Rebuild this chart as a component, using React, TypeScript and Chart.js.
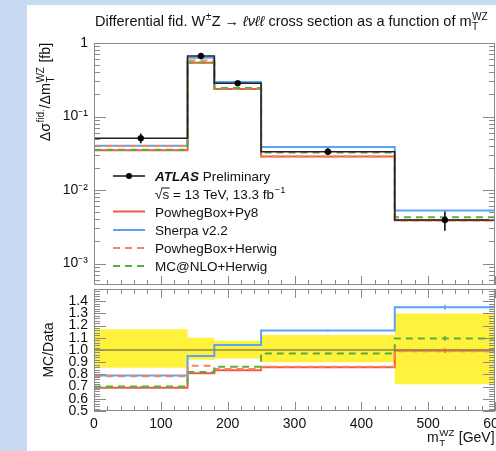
import React, { useEffect, useRef } from "react";
import { Chart, registerables } from "chart.js";
Chart.register(...registerables);

// ---------------- data ----------------
const binEdges = [0, 140, 180, 250, 450, 600];
const dataXsec = [0.0505, 0.665, 0.283, 0.0332, 0.0039];
const dataErrHi = [0.0585, 0.73, 0.303, 0.0372, 0.0051];
const dataErrLo = [0.0432, 0.61, 0.264, 0.0299, 0.0028];
const powhegPy8 = [0.0348, 0.539, 0.236, 0.0285, 0.00388];
const sherpa = [0.0399, 0.632, 0.294, 0.0385, 0.00527];
const powhegHerwig = [0.0396, 0.579, 0.239, 0.0286, 0.00386];
const mcnloHerwig = [0.0354, 0.545, 0.244, 0.0323, 0.00427];

const ratioData = [1, 1, 1, 1, 1];
const ratioPowhegPy8 = [0.69, 0.81, 0.835, 0.858, 0.995];
const ratioSherpa = [0.79, 0.95, 1.04, 1.16, 1.35];
const ratioPowhegHerwig = [0.785, 0.87, 0.845, 0.862, 0.99];
const ratioMcnloHerwig = [0.7, 0.82, 0.863, 0.972, 1.095];
const ratioMcStatErr = [0.004, 0.004, 0.005, 0.008, 0.02];
const bandHi = [1.17, 1.1, 1.075, 1.123, 1.3];
const bandLo = [0.855, 0.92, 0.93, 0.9, 0.72];

const logTickValues = [1e-3, 1e-2, 1e-1, 1];
const logTickLabels = ["10\u207B\u00B3", "10\u207B\u00B2", "10\u207B\u00B9", "1"];
const ratioTickValues = [0.5, 0.6, 0.7, 0.8, 0.9, 1.0, 1.1, 1.2, 1.3, 1.4];
const ratioTickLabels = ["0.5", "0.6", "0.7", "0.8", "0.9", "1.0", "1.1", "1.2", "1.3", "1.4"];
const xTickValues = [0, 100, 200, 300, 400, 500, 600];
const xTickLabels = ["0", "100", "200", "300", "400", "500", "600"];

const seriesNames = ["PowhegBox+Py8", "Sherpa v2.2", "PowhegBox+Herwig", "MC@NLO+Herwig"];

// ---------------- style ----------------
const FONT = '"Liberation Sans", Arial, Helvetica, sans-serif';
const RED = "#f35a3b";
const BLUE = "#5ba3f7";
const SALMON = "#f7835f";
const GREEN = "#55b043";
const YELLOW = "#fff23c";
const DATA_RATIO = "#8c8a40";
const FRAME = "#8a8a8a";
const DASH = [7, 5];

const fnt = (st: string, sz: number) => `${st} ${sz}px ${FONT}`.trim();

const stepPts = (vals: number[]) =>
  binEdges.map((x, i) => ({ x, y: vals[Math.min(i, vals.length - 1)] }));
const centers = binEdges.slice(0, -1).map((e, i) => (e + binEdges[i + 1]) / 2);

type Seg = { t?: string; st?: string; sup?: string; sub?: string };

function segWidth(ctx: CanvasRenderingContext2D, s: Seg, size: number) {
  if (s.t !== undefined) {
    ctx.font = fnt(s.st || "", size);
    return ctx.measureText(s.t).width;
  }
  ctx.font = fnt("", size * 0.7);
  return Math.max(
    s.sup ? ctx.measureText(s.sup).width : 0,
    s.sub ? ctx.measureText(s.sub).width : 0
  );
}

function drawRich(
  ctx: CanvasRenderingContext2D,
  segs: Seg[],
  x: number,
  y: number,
  size: number,
  align: "left" | "center" | "right" = "left"
) {
  const widths = segs.map((s) => segWidth(ctx, s, size));
  const total = widths.reduce((a, b) => a + b, 0);
  let cx = align === "center" ? x - total / 2 : align === "right" ? x - total : x;
  ctx.textAlign = "left";
  ctx.textBaseline = "alphabetic";
  segs.forEach((s, i) => {
    if (s.t !== undefined) {
      ctx.font = fnt(s.st || "", size);
      ctx.fillText(s.t, cx, y);
    } else {
      ctx.font = fnt("", size * 0.7);
      if (s.sup) ctx.fillText(s.sup, cx + 0.5, y - size * 0.42);
      if (s.sub) ctx.fillText(s.sub, cx + 0.5, y + size * 0.25);
    }
    cx += widths[i] + (s.t === undefined ? 1 : 0);
  });
}

// pin the plot area to the exact position of the reference frame
function fixArea(area: { left: number; top: number; right: number; bottom: number }) {
  return {
    id: "fixArea",
    afterLayout(chart: any) {
      const ca = chart.chartArea;
      ca.left = area.left;
      ca.top = area.top;
      ca.right = area.right;
      ca.bottom = area.bottom;
      ca.width = area.right - area.left;
      ca.height = area.bottom - area.top;
      const xs = chart.scales.x;
      const ys = chart.scales.y;
      const xh = xs.height || 0;
      const yw = ys.width || 0;
      xs.left = area.left;
      xs.right = area.right;
      xs.width = area.right - area.left;
      xs.top = area.bottom;
      xs.bottom = area.bottom + xh;
      ys.top = area.top;
      ys.bottom = area.bottom;
      ys.height = area.bottom - area.top;
      ys.right = area.left;
      ys.left = area.left - yw;
      xs.configure();
      ys.configure();
    },
  };
}

function frameTicks(kind: "upper" | "lower") {
  return {
    id: "frame-" + kind,
    afterDatasetsDraw(chart: any) {
      const { ctx, chartArea: a, scales } = chart;
      const xs = scales.x;
      const ys = scales.y;
      ctx.save();
      ctx.strokeStyle = FRAME;
      ctx.lineWidth = 1;
      ctx.strokeRect(a.left + 0.5, a.top + 0.5, a.right - a.left - 1, a.bottom - a.top - 1);
      ctx.beginPath();
      for (let v = xs.min; v <= xs.max; v += 20) {
        const px = Math.round(xs.getPixelForValue(v)) + 0.5;
        const L = v % 100 === 0 ? 9 : 5;
        ctx.moveTo(px, a.bottom);
        ctx.lineTo(px, a.bottom - L);
        if (kind === "lower") {
          ctx.moveTo(px, a.top);
          ctx.lineTo(px, a.top + L);
        }
      }
      const yt: { v: number; L: number }[] = [];
      if (kind === "upper") {
        for (let e = -4; e <= 0; e++) {
          for (let m = 1; m <= 9; m++) {
            const v = m * Math.pow(10, e);
            if (v >= ys.min * 0.999 && v <= ys.max * 1.001) yt.push({ v, L: m === 1 ? 12 : 6 });
          }
        }
      } else {
        for (let k = 0; k <= 50; k++) {
          yt.push({ v: ys.min + k * 0.02, L: k % 5 === 0 ? 12 : 6 });
        }
      }
      yt.forEach(({ v, L }) => {
        const py = Math.round(ys.getPixelForValue(v)) + 0.5;
        ctx.moveTo(a.left, py);
        ctx.lineTo(a.left + L, py);
        ctx.moveTo(a.right, py);
        ctx.lineTo(a.right - L, py);
      });
      ctx.stroke();
      ctx.restore();
    },
  };
}

const dataErrPlugin = {
  id: "dataErr",
  afterDatasetsDraw(chart: any) {
    const { ctx, scales } = chart;
    ctx.save();
    ctx.strokeStyle = "#000";
    ctx.lineWidth = 1.5;
    ctx.beginPath();
    centers.forEach((c, i) => {
      const px = scales.x.getPixelForValue(c);
      ctx.moveTo(px, scales.y.getPixelForValue(dataErrHi[i]));
      ctx.lineTo(px, scales.y.getPixelForValue(dataErrLo[i]));
    });
    ctx.stroke();
    ctx.restore();
  },
};

const upperText = {
  id: "upperText",
  afterDraw(chart: any) {
    const ctx: CanvasRenderingContext2D = chart.ctx;
    ctx.save();
    ctx.fillStyle = "#111";
    // title
    drawRich(
      ctx,
      [
        { t: "Differential fid. W" },
        { sup: "\u00B1" },
        { t: "Z \u2192 " },
        { t: "\u2113\u03BD\u2113\u2113", st: "italic" },
        { t: " cross section as a function of m" },
        { sup: "WZ", sub: "T" },
      ],
      95,
      26,
      14.5
    );
    // y title
    ctx.save();
    ctx.translate(45, 93);
    ctx.rotate(-Math.PI / 2);
    drawRich(
      ctx,
      [{ t: "\u0394\u03C3" }, { sup: "fid." }, { t: "/\u0394m" }, { sup: "WZ", sub: "T" }, { t: " [fb]" }],
      0,
      5,
      14.3,
      "center"
    );
    ctx.restore();

    // legend
    const LS = 13.5;
    const lx0 = 113,
      lx1 = 145,
      tx = 155;
    const rows = [176, 193.5, 211.5, 230, 248, 266];
    ctx.strokeStyle = "#111";
    ctx.lineWidth = 1.5;
    ctx.beginPath();
    ctx.moveTo(lx0, rows[0]);
    ctx.lineTo(lx1, rows[0]);
    ctx.stroke();
    ctx.beginPath();
    ctx.arc((lx0 + lx1) / 2, rows[0], 3, 0, Math.PI * 2);
    ctx.fillStyle = "#000";
    ctx.fill();
    ctx.fillStyle = "#111";
    drawRich(ctx, [{ t: "ATLAS", st: "bold italic" }, { t: " Preliminary" }], tx, rows[0] + 5, LS);
    drawRich(ctx, [{ t: "\u221As = 13 TeV, 13.3 fb" }, { sup: "\u22121" }], tx, rows[1] + 5, LS);
    ctx.font = fnt("", LS);
    const wr = ctx.measureText("\u221A").width;
    const ws = ctx.measureText("s").width;
    ctx.lineWidth = 1;
    ctx.beginPath();
    ctx.moveTo(tx + wr - 1, rows[1] - 5.5);
    ctx.lineTo(tx + wr + ws + 0.5, rows[1] - 5.5);
    ctx.stroke();

    const styles = [
      { c: RED, d: [] as number[] },
      { c: BLUE, d: [] as number[] },
      { c: SALMON, d: DASH },
      { c: GREEN, d: DASH },
    ];
    seriesNames.forEach((name, i) => {
      const y = rows[i + 2];
      ctx.strokeStyle = styles[i].c;
      ctx.lineWidth = 2;
      ctx.setLineDash(styles[i].d);
      ctx.beginPath();
      ctx.moveTo(lx0, y);
      ctx.lineTo(lx1, y);
      ctx.stroke();
      ctx.setLineDash([]);
      ctx.fillStyle = "#111";
      ctx.font = fnt("", LS);
      ctx.textAlign = "left";
      ctx.fillText(name, tx, y + 5);
    });
    ctx.restore();
  },
};

const lowerText = {
  id: "lowerText",
  afterDraw(chart: any) {
    const ctx: CanvasRenderingContext2D = chart.ctx;
    const { scales } = chart;
    ctx.save();
    ctx.lineWidth = 1.5;
    const sets = [
      { v: ratioSherpa, c: BLUE },
      { v: ratioMcnloHerwig, c: GREEN },
      { v: ratioPowhegPy8, c: RED },
    ];
    sets.forEach(({ v, c }) => {
      ctx.strokeStyle = c;
      ctx.beginPath();
      centers.forEach((cx, i) => {
        const px = scales.x.getPixelForValue(cx);
        ctx.moveTo(px, scales.y.getPixelForValue(v[i] + ratioMcStatErr[i]));
        ctx.lineTo(px, scales.y.getPixelForValue(v[i] - ratioMcStatErr[i]));
      });
      ctx.stroke();
    });
    ctx.restore();

    ctx.save();
    ctx.fillStyle = "#111";
    ctx.save();
    ctx.translate(48, 350);
    ctx.rotate(-Math.PI / 2);
    drawRich(ctx, [{ t: "MC/Data" }], 0, 5, 14, "center");
    ctx.restore();
    drawRich(ctx, [{ t: "m" }, { sup: "WZ", sub: "T" }, { t: " [GeV]" }], 427, 442, 14);
    ctx.restore();
  },
};

const lineDs = (label: string, pts: any[], color: string, dash: number[] = [], width = 2) => ({
  label,
  data: pts,
  borderColor: color,
  backgroundColor: color,
  borderWidth: width,
  borderDash: dash,
  stepped: true,
  pointRadius: 0,
  fill: false,
});

export default function App() {
  const upRef = useRef<HTMLCanvasElement>(null);
  const loRef = useRef<HTMLCanvasElement>(null);

  useEffect(() => {
    Chart.defaults.font.family = FONT;
    Chart.defaults.color = "#111";
    const tickFont = { family: FONT, size: 14 };

    const upper = new Chart(upRef.current!, {
      type: "line",
      data: {
        datasets: [
          {
            label: "Data points",
            type: "scatter",
            data: centers.map((x, i) => ({ x, y: dataXsec[i] })),
            pointRadius: 3,
            borderWidth: 0.5,
            backgroundColor: "#000",
            borderColor: "#000",
            showLine: false,
          } as any,
          lineDs("Data", stepPts(dataXsec), "#222", [], 1.5),
          lineDs(seriesNames[3], stepPts(mcnloHerwig), GREEN, DASH),
          lineDs(seriesNames[2], stepPts(powhegHerwig), SALMON, DASH),
          lineDs(seriesNames[1], stepPts(sherpa), BLUE),
          lineDs(seriesNames[0], stepPts(powhegPy8), RED),
        ],
      },
      options: {
        animation: false,
        responsive: false,
        maintainAspectRatio: false,
        layout: { padding: { left: 34, top: 43, right: 1, bottom: 166 }, autoPadding: false } as any,
        plugins: { legend: { display: false }, tooltip: { enabled: false }, title: { display: false } },
        scales: {
          x: { type: "linear", min: 0, max: 600, display: false },
          y: {
            type: "logarithmic",
            min: 5.1e-4,
            max: 1,
            afterFit: (s: any) => {
              s.width = 60;
            },
            afterBuildTicks: (s: any) => {
              s.ticks = logTickValues.map((v) => ({ value: v }));
            },
            ticks: {
              autoSkip: false,
              padding: 6,
              color: "#111",
              font: tickFont,
              callback: (v: any) => {
                const i = logTickValues.findIndex((t) => Math.abs(t - v) / t < 1e-6);
                return i >= 0 ? logTickLabels[i] : "";
              },
            },
            grid: { display: false, drawTicks: false },
            border: { display: false },
          },
        },
      } as any,
      plugins: [
        fixArea({ left: 94, top: 43, right: 495, bottom: 285 }),
        frameTicks("upper"),
        dataErrPlugin,
        upperText,
      ],
    });

    const lower = new Chart(loRef.current!, {
      type: "line",
      data: {
        datasets: [
          lineDs("Data ratio", stepPts(ratioData), DATA_RATIO, [], 1.5),
          lineDs(seriesNames[3], stepPts(ratioMcnloHerwig), GREEN, DASH),
          lineDs(seriesNames[2], stepPts(ratioPowhegHerwig), SALMON, DASH),
          lineDs(seriesNames[1], stepPts(ratioSherpa), BLUE),
          lineDs(seriesNames[0], stepPts(ratioPowhegPy8), RED),
          { ...lineDs("band hi", stepPts(bandHi), YELLOW, [], 0) },
          {
            ...lineDs("band lo", stepPts(bandLo), YELLOW, [], 0),
            fill: "-1",
            backgroundColor: YELLOW,
          },
        ],
      },
      options: {
        animation: false,
        responsive: false,
        maintainAspectRatio: false,
        layout: { padding: { left: 34, top: 289, right: 1, bottom: 10 }, autoPadding: false } as any,
        plugins: { legend: { display: false }, tooltip: { enabled: false }, title: { display: false } },
        scales: {
          x: {
            type: "linear",
            min: 0,
            max: 600,
            afterFit: (s: any) => {
              s.height = 30;
            },
            afterBuildTicks: (s: any) => {
              s.ticks = xTickValues.map((v) => ({ value: v }));
            },
            ticks: {
              autoSkip: false,
              maxRotation: 0,
              padding: 5,
              color: "#111",
              font: tickFont,
              callback: (v: any) => {
                const i = xTickValues.indexOf(Math.round(v));
                return i >= 0 ? xTickLabels[i] : "";
              },
            },
            grid: { display: false, drawTicks: false },
            border: { display: false },
          },
          y: {
            type: "linear",
            min: 0.5,
            max: 1.5,
            afterFit: (s: any) => {
              s.width = 60;
            },
            afterBuildTicks: (s: any) => {
              s.ticks = ratioTickValues.map((v) => ({ value: v }));
            },
            ticks: {
              autoSkip: false,
              padding: 6,
              color: "#111",
              font: { family: FONT, size: 14, lineHeight: 1 },
              callback: (v: any) => {
                const i = ratioTickValues.findIndex((t) => Math.abs(t - v) < 1e-6);
                return i >= 0 ? ratioTickLabels[i] : "";
              },
            },
            grid: { display: false, drawTicks: false },
            border: { display: false },
          },
        },
      } as any,
      plugins: [
        fixArea({ left: 94, top: 289, right: 495, bottom: 411 }),
        frameTicks("lower"),
        lowerText,
      ],
    });

    return () => {
      upper.destroy();
      lower.destroy();
    };
  }, []);

  return (
    <div
      style={{
        position: "fixed",
        left: 0,
        top: 0,
        width: 496,
        height: 451,
        background: "#c8daf1",
        overflow: "hidden",
      }}
    >
      <div
        style={{ position: "absolute", left: 27, top: 5, width: 469, height: 446, background: "#fff" }}
      />
      <canvas ref={upRef} width={496} height={451} style={{ position: "absolute", left: 0, top: 0 }} />
      <canvas ref={loRef} width={496} height={451} style={{ position: "absolute", left: 0, top: 0 }} />
    </div>
  );
}
